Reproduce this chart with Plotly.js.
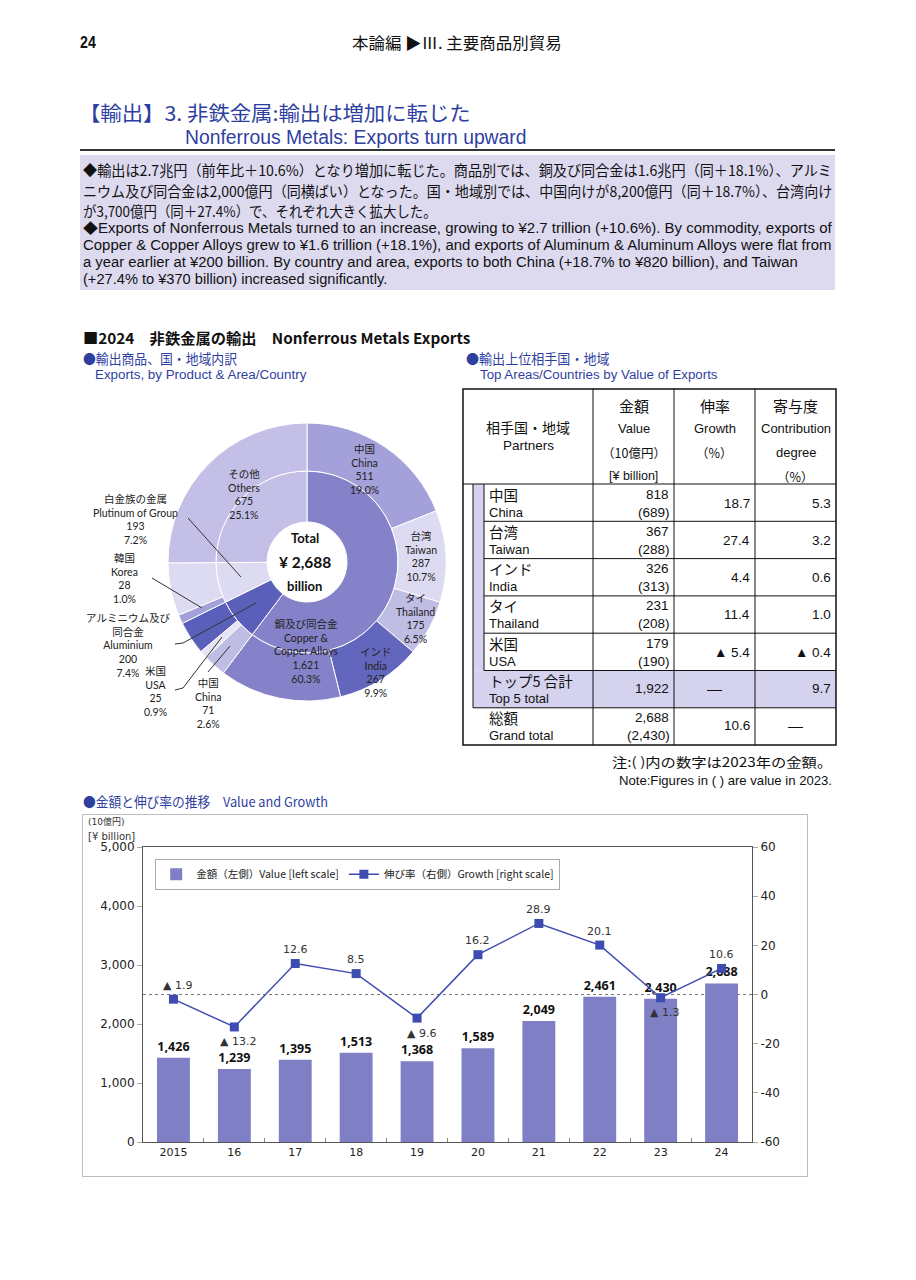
<!DOCTYPE html>
<html><head><meta charset="utf-8">
<script src="https://cdn.plot.ly/plotly-3.0.1.min.js"></script>
<style>
html,body{margin:0;padding:0;background:#fff;}
#page{position:relative;width:916px;height:1280px;overflow:hidden;background:#fff;}
.tx{position:absolute;white-space:nowrap;line-height:1.2;transform-origin:0 50%;}
.plot{position:absolute;}
</style></head><body><div id="page">
<div style="position:absolute;left:80px;top:149px;width:755px;height:2px;background:#333"></div>
<div style="position:absolute;left:80px;top:155px;width:755px;height:135px;background:#dddaf0"></div>
<div id="donut" class="plot" style="left:80px;top:395px;width:380px;height:345px"></div>
<div id="table" class="plot" style="left:455px;top:385px;width:390px;height:365px"></div>
<div id="trend" class="plot" style="left:83px;top:815px;width:724px;height:361px;outline:1px solid #bdbdbd"></div>
</div>
<script>
// ---------------- DATA ----------------
// Donut: products (inner ring)
const productJa = ['銅及び同合金', 'アルミニウム及び<br>同合金', '白金族の金属', 'その他'];
const productEn = ['Copper &<br>Copper Alloys', 'Aluminium', 'Plutinum of Group', 'Others'];
const productValues = [1621, 200, 193, 675];
const totalValue = 2688;
// Outer ring: destinations inside each product
const copperDestJa = ['中国', '台湾', 'タイ', 'インド'];
const copperDestEn = ['China', 'Taiwan', 'Thailand', 'India'];
const copperDestValues = [511, 287, 175, 267];
const aluDestJa = ['中国', '米国'];
const aluDestEn = ['China', 'USA'];
const aluDestValues = [71, 25];
const ptDestJa = ['韓国'];
const ptDestEn = ['Korea'];
const ptDestValues = [28];

// Table: top partners
const partnerJa = ['中国', '台湾', 'インド', 'タイ', '米国'];
const partnerEn = ['China', 'Taiwan', 'India', 'Thailand', 'USA'];
const value2024 = [818, 367, 326, 231, 179];
const value2023 = [689, 288, 313, 208, 190];
const partnerGrowth = [18.7, 27.4, 4.4, 11.4, -5.4];
const partnerContribution = [5.3, 3.2, 0.6, 1.0, -0.4];
const top5Value = 1922;
const top5Contribution = 9.7;
const grandTotal2024 = 2688;
const grandTotal2023 = 2430;
const grandTotalGrowth = 10.6;

// Trend chart
const years = ['2015', '16', '17', '18', '19', '20', '21', '22', '23', '24'];
const exportValue = [1426, 1239, 1395, 1513, 1368, 1589, 2049, 2461, 2430, 2688];
const growthRate = [-1.9, -13.2, 12.6, 8.5, -9.6, 16.2, 28.9, 20.1, -1.3, 10.6];

// ---------------- STYLE / LAYOUT ----------------
const BLUE = '#2f3f9f';
const JP = "'Noto Sans CJK JP', sans-serif";
const SANS = "'Liberation Sans', 'Noto Sans CJK JP', sans-serif";
const LBL = "Lato, 'Noto Sans CJK JP', sans-serif";
const DV = "'DejaVu Sans', 'Noto Sans CJK JP', sans-serif";
const fmtN = v => v.toLocaleString('en-US');
const fmtG = v => v < 0 ? '▲ ' + Math.abs(v).toFixed(1) : v.toFixed(1);

// ---------- page texts ----------
const texts = [
  {t: '24', x: 80, cy: 43, fs: 16, f: SANS, b: 1, w: 16},
  {t: '本論編 ▶Ⅲ. 主要商品別貿易', x: 352, cy: 43, fs: 16, f: JP, w: 210},
  {t: '【輸出】3. 非鉄金属:輸出は増加に転じた', x: 79, cy: 113, fs: 20, f: JP, c: BLUE, w: 392},
  {t: 'Nonferrous Metals: Exports turn upward', x: 185, cy: 137, fs: 20, f: SANS, c: BLUE, w: 342},
  {t: '◆輸出は2.7兆円（前年比＋10.6%）となり増加に転じた。商品別では、銅及び同合金は1.6兆円（同＋18.1%）、アルミ', x: 83, cy: 170, fs: 14.5, f: JP, w: 749},
  {t: 'ニウム及び同合金は2,000億円（同横ばい）となった。国・地域別では、中国向けが8,200億円（同＋18.7%）、台湾向け', x: 83, cy: 191, fs: 14.5, f: JP, w: 749},
  {t: 'が3,700億円（同＋27.4%）で、それぞれ大きく拡大した。', x: 83, cy: 211, fs: 14.5, f: JP, w: 354},
  {t: '◆Exports of Nonferrous Metals turned to an increase, growing to ¥2.7 trillion (+10.6%). By commodity, exports of', x: 83, cy: 228, fs: 14, f: SANS, w: 749},
  {t: 'Copper & Copper Alloys grew to ¥1.6 trillion (+18.1%), and exports of Aluminum & Aluminum Alloys were flat from', x: 83, cy: 245, fs: 14, f: SANS, w: 749},
  {t: 'a year earlier at ¥200 billion. By country and area, exports to both China (+18.7% to ¥820 billion), and Taiwan', x: 83, cy: 262, fs: 14, f: SANS, w: 715},
  {t: '(+27.4% to ¥370 billion) increased significantly.', x: 83, cy: 279, fs: 14, f: SANS, w: 304},
  {t: '■2024　非鉄金属の輸出　Nonferrous Metals Exports', x: 83, cy: 338, fs: 15, f: JP, b: 1, w: 387},
  {t: '●輸出商品、国・地域内訳', x: 83, cy: 358, fs: 13.5, f: JP, c: BLUE, w: 154},
  {t: 'Exports, by Product & Area/Country', x: 95, cy: 375, fs: 12.5, f: SANS, c: BLUE, w: 211},
  {t: '●輸出上位相手国・地域', x: 466, cy: 358, fs: 13.5, f: JP, c: BLUE, w: 144},
  {t: 'Top Areas/Countries by Value of Exports', x: 480, cy: 375, fs: 12.5, f: SANS, c: BLUE, w: 238},
  {t: '注:( )内の数字は2023年の金額。', x: 612, cy: 762, fs: 13, f: JP, w: 220},
  {t: 'Note:Figures in ( ) are value in 2023.', x: 619, cy: 781, fs: 13, f: SANS, w: 213},
  {t: '●金額と伸び率の推移　Value and Growth', x: 83, cy: 801, fs: 13.5, f: JP, c: BLUE, w: 245}
];
const page = document.getElementById('page');
const textEls = texts.map(s => {
  const el = document.createElement('div');
  el.className = 'tx';
  el.textContent = s.t;
  el.style.left = s.x + 'px';
  el.style.top = (s.cy - s.fs * 0.6) + 'px';
  el.style.fontSize = s.fs + 'px';
  el.style.fontFamily = s.f;
  el.style.color = s.c || '#111';
  if (s.b) el.style.fontWeight = 'bold';
  page.appendChild(el);
  return [el, s];
});
function fitTexts() {
  textEls.forEach(([el, s]) => {
    el.style.transform = 'none';
    const w = el.offsetWidth;
    if (s.w && w > 0) el.style.transform = 'scaleX(' + (s.w / w) + ')';
  });
}
fitTexts();
if (document.fonts && document.fonts.ready) document.fonts.ready.then(fitTexts);

// ---------- DONUT ----------
(function () {
  const W = 380, H = 345, L = 80, T = 395;
  const cx = 307, cy = 562, R = 139, r1 = 91, r0 = 40;
  const px = x => (x - L) / W, py = y => 1 - (y - T) / H;
  const outerVals = [], outerColors = [];
  const outerCol = {
    copper: ['#a4a0d9', '#dddbf1', '#c0bde5', '#6366bd'], copperRest: '#8582c9',
    alu: ['#c0bde5', '#e6e4f4'], aluRest: '#5a5fb9',
    pt: ['#a4a0d9'], ptRest: '#dddbf1', others: '#c3bfe6'
  };
  const sum = a => a.reduce((p, c) => p + c, 0);
  copperDestValues.forEach((v, i) => { outerVals.push(v); outerColors.push(outerCol.copper[i]); });
  outerVals.push(productValues[0] - sum(copperDestValues)); outerColors.push(outerCol.copperRest);
  aluDestValues.forEach((v, i) => { outerVals.push(v); outerColors.push(outerCol.alu[i]); });
  outerVals.push(productValues[1] - sum(aluDestValues)); outerColors.push(outerCol.aluRest);
  ptDestValues.forEach((v, i) => { outerVals.push(v); outerColors.push(outerCol.pt[i]); });
  outerVals.push(productValues[2] - sum(ptDestValues)); outerColors.push(outerCol.ptRest);
  outerVals.push(productValues[3]); outerColors.push(outerCol.others);
  const innerColors = ['#8582c9', '#5a5fb9', '#dddbf1', '#c3bfe6'];

  const inner = {
    type: 'pie', values: productValues, sort: false, direction: 'clockwise', rotation: 0,
    hole: r0 / r1, textinfo: 'none', hoverinfo: 'none', showlegend: false,
    marker: {colors: innerColors, line: {color: '#ffffff', width: 1}},
    domain: {x: [px(cx - r1), px(cx + r1)], y: [py(cy + r1), py(cy - r1)]}
  };
  const outer = {
    type: 'pie', values: outerVals, sort: false, direction: 'clockwise', rotation: 0,
    hole: r1 / R, textinfo: 'none', hoverinfo: 'none', showlegend: false,
    marker: {colors: outerColors, line: {color: '#ffffff', width: 1}},
    domain: {x: [px(cx - R), px(cx + R)], y: [py(cy + R), py(cy - R)]}
  };
  const pct = v => (v / totalValue * 100).toFixed(1) + '%';
  const lab = (ja, en, v) => ja + '<br>' + en + '<br>' + fmtN(v) + '<br>' + pct(v);
  const labels = [
    {text: lab(productJa[0], productEn[0], productValues[0]), x: 306, y: 651},
    {text: lab(productJa[1], productEn[1], productValues[1]), x: 128, y: 645},
    {text: lab(productJa[2], productEn[2], productValues[2]), x: 135, y: 519},
    {text: lab(productJa[3], productEn[3], productValues[3]), x: 244, y: 495},
    {text: lab(copperDestJa[0], copperDestEn[0], copperDestValues[0]), x: 364, y: 470},
    {text: lab(copperDestJa[1], copperDestEn[1], copperDestValues[1]), x: 421, y: 556},
    {text: lab(copperDestJa[2], copperDestEn[2], copperDestValues[2]), x: 415, y: 619},
    {text: lab(copperDestJa[3], copperDestEn[3], copperDestValues[3]), x: 376, y: 672},
    {text: lab(aluDestJa[0], aluDestEn[0], aluDestValues[0]), x: 208, y: 703},
    {text: lab(aluDestJa[1], aluDestEn[1], aluDestValues[1]), x: 155, y: 691},
    {text: lab(ptDestJa[0], ptDestEn[0], ptDestValues[0]), x: 124, y: 578}
  ];
  const ann = labels.map(l => ({
    x: px(l.x), y: py(l.y), xref: 'paper', yref: 'paper', showarrow: false,
    text: l.text, align: 'center', xanchor: 'center', yanchor: 'middle',
    font: {family: LBL, size: 10.5, color: '#222'}
  }));
  ann.push({x: px(305), y: py(538), xref: 'paper', yref: 'paper', showarrow: false, text: '<b>Total</b>', font: {family: LBL, size: 13, color: '#111'}});
  ann.push({x: px(305), y: py(562), xref: 'paper', yref: 'paper', showarrow: false, text: '<b>¥ ' + fmtN(totalValue) + '</b>', font: {family: LBL, size: 15.5, color: '#111'}});
  ann.push({x: px(305), y: py(586), xref: 'paper', yref: 'paper', showarrow: false, text: '<b>billion</b>', font: {family: LBL, size: 13, color: '#111'}});
  const leader = pts => ({
    type: 'path', xref: 'paper', yref: 'paper',
    path: pts.map((p, i) => (i ? 'L' : 'M') + px(p[0]) + ',' + py(p[1])).join(' '),
    line: {color: '#333', width: 1}
  });
  const shapes = [
    leader([[188, 518], [241, 577]]),
    leader([[152, 578], [202, 608]]),
    leader([[175, 644], [183, 643], [256, 603]]),
    leader([[175, 690], [183, 688], [222, 637]]),
    leader([[208, 672], [230, 646]])
  ];
  Plotly.newPlot('donut', [inner, outer], {
    width: W, height: H, margin: {l: 0, r: 0, t: 0, b: 0},
    paper_bgcolor: 'rgba(0,0,0,0)', showlegend: false, annotations: ann, shapes: shapes
  }, {staticPlot: true});
})();

// ---------- TABLE ----------
(function () {
  const L = 455, T = 385, W = 390, H = 365;
  const colX = [463, 593, 674, 755, 836];
  const top0 = 389, hdrBot = 484, rowH = 37.3;
  const nRows = 7;
  const rowTop = i => hdrBot + i * rowH;
  const bottom = rowTop(nRows);
  const LAV = '#d5d2ee';
  const line = (x0, y0, x1, y1, w) => ({type: 'line', x0, y0, x1, y1, xref: 'x', yref: 'y', line: {color: '#111', width: w || 1}});
  const shapes = [
    {type: 'rect', x0: 473, x1: 484, y0: hdrBot, y1: rowTop(5), fillcolor: LAV, line: {width: 0}, xref: 'x', yref: 'y', layer: 'below'},
    {type: 'rect', x0: 473, x1: colX[4], y0: rowTop(5), y1: rowTop(6), fillcolor: LAV, line: {width: 0}, xref: 'x', yref: 'y', layer: 'below'},
    {type: 'rect', x0: colX[0], x1: colX[4], y0: top0, y1: bottom, xref: 'x', yref: 'y', line: {color: '#111', width: 1.5}},
    line(colX[1], top0, colX[1], bottom), line(colX[2], top0, colX[2], bottom), line(colX[3], top0, colX[3], bottom),
    line(colX[0], hdrBot, colX[4], hdrBot),
    line(473, hdrBot, 473, rowTop(6)), line(484, hdrBot, 484, rowTop(5)),
    line(473, rowTop(6), colX[4], rowTop(6))
  ];
  for (let k = 1; k <= 5; k++) shapes.push(line(484, rowTop(k), colX[4], rowTop(k)));

  const ann = [];
  const A = (text, x, y, xa, fam, size) => ann.push({
    text, x, y, xref: 'x', yref: 'y', xanchor: xa, yanchor: 'middle', showarrow: false,
    font: {family: fam, size: size, color: '#111'}
  });
  const c1 = (colX[0] + colX[1]) / 2, c2 = (colX[1] + colX[2]) / 2, c3 = (colX[2] + colX[3]) / 2, c4 = (colX[3] + colX[4]) / 2;
  A('相手国・地域', c1, 427, 'center', JP, 14);
  A('Partners', c1, 445, 'center', SANS, 13.5);
  A('金額', c2, 405, 'center', JP, 15);
  A('Value', c2, 428, 'center', SANS, 13);
  A('（10億円）', c2, 452, 'center', JP, 12.5);
  A('[¥ billion]', c2, 476, 'center', SANS, 12.5);
  A('伸率', c3, 405, 'center', JP, 15);
  A('Growth', c3, 428, 'center', SANS, 13);
  A('（%）', c3, 452, 'center', JP, 12.5);
  A('寄与度', c4, 405, 'center', JP, 15);
  A('Contribution', c4, 428, 'center', SANS, 13);
  A('degree', c4, 452, 'center', SANS, 13);
  A('（%）', c4, 476, 'center', JP, 12.5);
  const xName = 487, xVal = 671, xGr = 752, xCo = 833;
  partnerJa.forEach((ja, i) => {
    const t = rowTop(i);
    A(ja, xName, t + 10, 'left', JP, 14.5);
    A(partnerEn[i], xName, t + 28, 'left', SANS, 13);
    A(fmtN(value2024[i]), xVal, t + 10, 'right', SANS, 13.5);
    A('(' + fmtN(value2023[i]) + ')', xVal + 1, t + 28, 'right', SANS, 13.5);
    A(fmtG(partnerGrowth[i]), xGr, t + 19, 'right', SANS, 13.5);
    A(fmtG(partnerContribution[i]), xCo, t + 19, 'right', SANS, 13.5);
  });
  const t5 = rowTop(5);
  A('トップ5 合計', xName, t5 + 10, 'left', JP, 14.5);
  A('Top 5 total', xName, t5 + 28, 'left', SANS, 13);
  A(fmtN(top5Value), xVal, t5 + 18, 'right', SANS, 13.5);
  A('—', c3, t5 + 18, 'center', SANS, 15);
  A(top5Contribution.toFixed(1), xCo, t5 + 18, 'right', SANS, 13.5);
  const t6 = rowTop(6);
  A('総額', xName, t6 + 10, 'left', JP, 14.5);
  A('Grand total', xName, t6 + 28, 'left', SANS, 13);
  A(fmtN(grandTotal2024), xVal, t6 + 10, 'right', SANS, 13.5);
  A('(' + fmtN(grandTotal2023) + ')', xVal + 1, t6 + 28, 'right', SANS, 13.5);
  A(fmtG(grandTotalGrowth), xGr, t6 + 18, 'right', SANS, 13.5);
  A('—', c4, t6 + 18, 'center', SANS, 15);

  Plotly.newPlot('table', [], {
    width: W, height: H, margin: {l: 0, r: 0, t: 0, b: 0},
    paper_bgcolor: 'rgba(0,0,0,0)', plot_bgcolor: 'rgba(0,0,0,0)',
    xaxis: {range: [L, L + W], visible: false, fixedrange: true},
    yaxis: {range: [T + H, T], visible: false, fixedrange: true},
    shapes: shapes, annotations: ann, showlegend: false
  }, {staticPlot: true});
})();

// ---------- TREND CHART ----------
(function () {
  const belowLabel = [false, true, false, false, true, false, false, false, true, false];
  const tickFont = {family: DV, size: 12, color: '#222'};
  const y2ticks = [];
  for (let v = -60; v <= 60; v += 20) y2ticks.push(v);
  const ann = growthRate.map((g, i) => ({
    x: i, y: g, xref: 'x', yref: 'y2', showarrow: false,
    text: fmtG(g), yshift: belowLabel[i] ? -15 : 14, xshift: (g < 0 ? 4 : 0),
    font: {family: DV, size: 11, color: '#333'}
  }));
  ann.push({xref: 'paper', yref: 'paper', x: -0.06, y: 1.088, xanchor: 'center', yanchor: 'middle', showarrow: false, text: '(10億円)', font: {family: DV, size: 9, color: '#333'}});
  ann.push({xref: 'paper', yref: 'paper', x: -0.052, y: 1.034, xanchor: 'center', yanchor: 'middle', showarrow: false, text: '[¥ billion]', font: {family: DV, size: 10, color: '#333'}});
  Plotly.newPlot('trend', [
    {
      type: 'bar', x: years, y: exportValue, name: '金額（左側）Value [left scale]',
      marker: {color: '#7f7fc6'}, text: exportValue.map(fmtN), textposition: 'outside',
      textfont: {family: "'Noto Sans', sans-serif", size: 12.5, color: '#111', weight: 700},
      cliponaxis: false, hoverinfo: 'skip'
    },
    {
      type: 'scatter', mode: 'lines+markers', x: years, y: growthRate, yaxis: 'y2',
      name: '伸び率（右側）Growth [right scale]',
      line: {color: '#3d4cb0', width: 1.5}, marker: {symbol: 'square', size: 9, color: '#3d4cb0'},
      cliponaxis: false, hoverinfo: 'skip'
    }
  ], {
    width: 724, height: 361, margin: {l: 60, r: 55, t: 32, b: 34},
    paper_bgcolor: '#ffffff', plot_bgcolor: '#ffffff', bargap: 0.46,
    xaxis: {type: 'category', range: [-0.5, years.length - 0.5], showline: true, linecolor: '#555', linewidth: 1, mirror: true,
      ticks: 'inside', tickson: 'boundaries', ticklen: 4, tickcolor: '#888',
      tickfont: {family: DV, size: 11, color: '#222'}, showgrid: false},
    yaxis: {range: [0, 5000], dtick: 1000, tickformat: ',d', showline: true, linecolor: '#555', mirror: true,
      ticks: 'outside', ticklen: 5, tickcolor: '#aaa', tickfont: tickFont, showgrid: false, zeroline: false},
    yaxis2: {range: [-60, 60], tickmode: 'array', tickvals: y2ticks, ticktext: y2ticks.map(v => String(v)),
      overlaying: 'y', side: 'right', ticks: 'outside', ticklen: 5,
      tickcolor: '#aaa', showgrid: false, zeroline: false, showline: false, tickfont: tickFont},
    legend: {orientation: 'h', x: 0.02, y: 0.96, xanchor: 'left', yanchor: 'top',
      bordercolor: '#aaa', borderwidth: 1, bgcolor: '#ffffff',
      font: {family: "'Noto Sans CJK JP', sans-serif", size: 10.5, color: '#222'}},
    shapes: [{type: 'line', xref: 'paper', x0: 0, x1: 1, yref: 'y2', y0: 0, y1: 0,
      line: {color: '#777', width: 1, dash: 'dot'}, layer: 'below'}],
    annotations: ann
  }, {staticPlot: true});
})();
</script>
</body></html>
